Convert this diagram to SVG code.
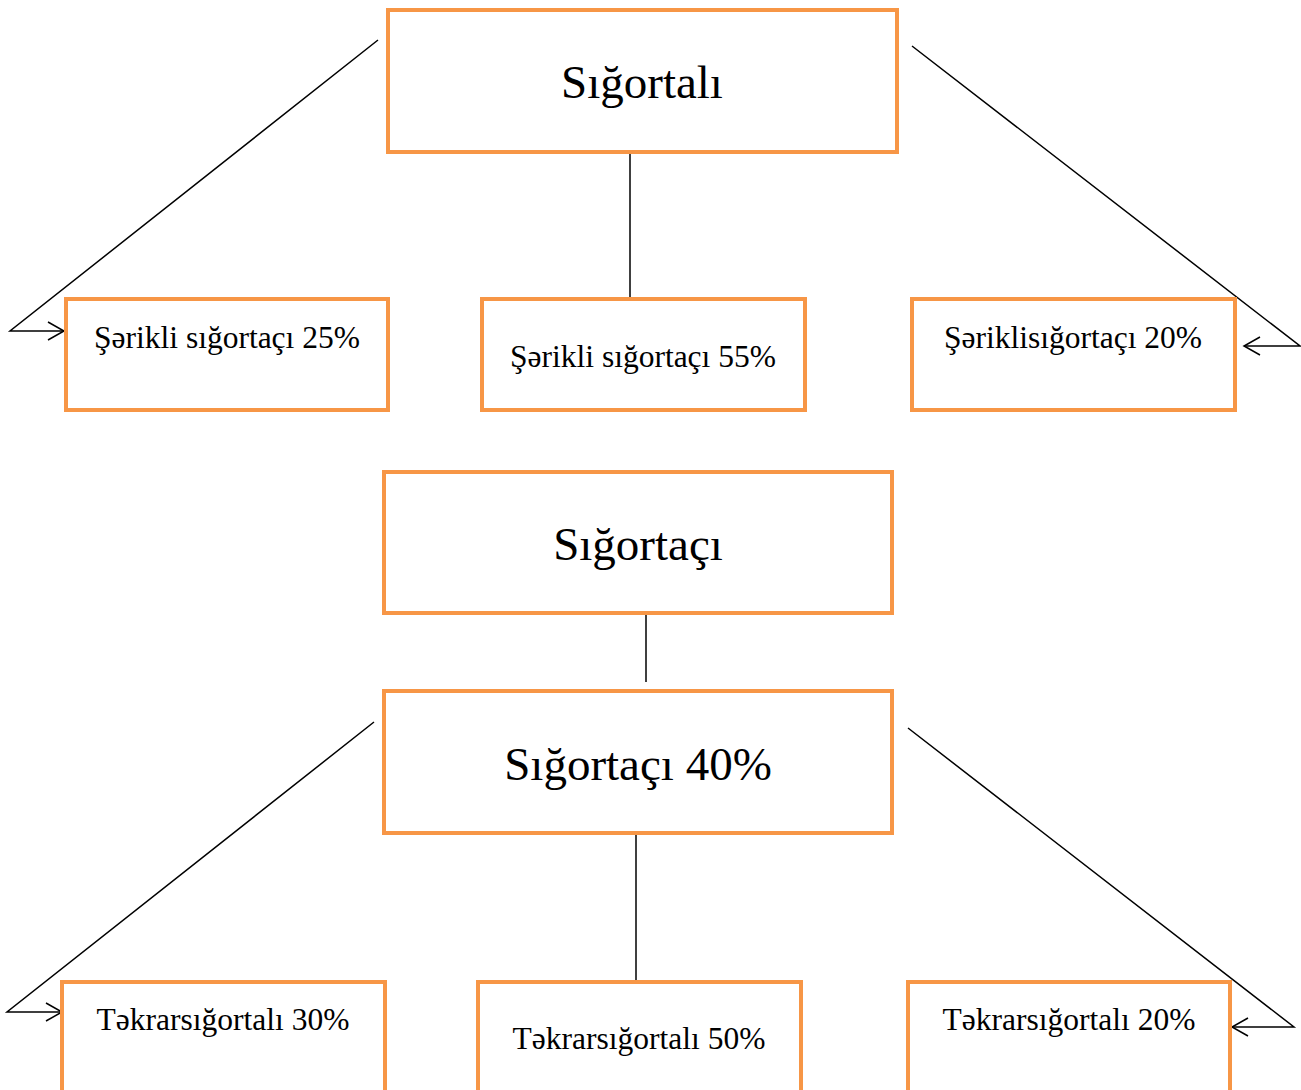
<svg xmlns="http://www.w3.org/2000/svg" width="1301" height="1090" viewBox="0 0 1301 1090">
  <style>
    .box { fill: #ffffff; stroke: #F79646; stroke-width: 4; }
    .wire { fill: none; stroke: #000000; stroke-width: 1.5; }
    .t { fill: #000000; text-anchor: middle; }
    .big { font-size: 47px; }
    .small { font-size: 31.5px; }
  </style>
  <defs>
    <marker id="open" viewBox="0 0 20 20" refX="18" refY="10" markerWidth="20" markerHeight="20" markerUnits="userSpaceOnUse" orient="auto">
      <path d="M2,1 L18,10 L2,19" fill="none" stroke="#000" stroke-width="1.5"/>
    </marker>
  </defs>
  <rect width="1301" height="1090" fill="#ffffff"/>

  <g id="connectors">
    <!-- upper tree -->
    <polyline class="wire" points="378,40 10,331 64,331" marker-end="url(#open)"/>
    <polyline class="wire" points="912,46 1300,346 1244,346" marker-end="url(#open)"/>
    <line class="wire" x1="630" y1="152" x2="630" y2="299"/>
    <!-- link between the two trees -->
    <line class="wire" x1="646" y1="613" x2="646" y2="682"/>
    <!-- lower tree -->
    <polyline class="wire" points="374,722 7,1012 62,1012" marker-end="url(#open)"/>
    <polyline class="wire" points="908,728 1294,1027 1232,1027" marker-end="url(#open)"/>
    <line class="wire" x1="636" y1="833" x2="636" y2="982"/>
  </g>

  <g font-family="'Times New Roman', 'Liberation Serif', serif">
  <g id="sigortali">
    <rect class="box" x="388" y="10" width="509" height="142"/>
    <text class="t big" x="642" y="98">Sığortalı</text>
  </g>
  <g id="serikli-25">
    <rect class="box" x="66" y="299" width="322" height="111"/>
    <text class="t small" x="227" y="348">Şərikli sığortaçı 25%</text>
  </g>
  <g id="serikli-55">
    <rect class="box" x="482" y="299" width="323" height="111"/>
    <text class="t small" x="643" y="367">Şərikli sığortaçı 55%</text>
  </g>
  <g id="serikli-20">
    <rect class="box" x="912" y="299" width="323" height="111"/>
    <text class="t small" x="1073" y="348">Şəriklisığortaçı 20%</text>
  </g>

  <g id="sigortaci">
    <rect class="box" x="384" y="472" width="508" height="141"/>
    <text class="t big" x="638" y="560">Sığortaçı</text>
  </g>
  <g id="sigortaci-40">
    <rect class="box" x="384" y="691" width="508" height="142"/>
    <text class="t big" x="638" y="780">Sığortaçı 40%</text>
  </g>

  <g id="tekrar-30">
    <rect class="box" x="62" y="982" width="323" height="120"/>
    <text class="t small" x="223" y="1030">Təkrarsığortalı 30%</text>
  </g>
  <g id="tekrar-50">
    <rect class="box" x="478" y="982" width="323" height="120"/>
    <text class="t small" x="639" y="1049">Təkrarsığortalı 50%</text>
  </g>
  <g id="tekrar-20">
    <rect class="box" x="908" y="982" width="322" height="120"/>
    <text class="t small" x="1069" y="1030">Təkrarsığortalı 20%</text>
  </g>
  </g>
</svg>
